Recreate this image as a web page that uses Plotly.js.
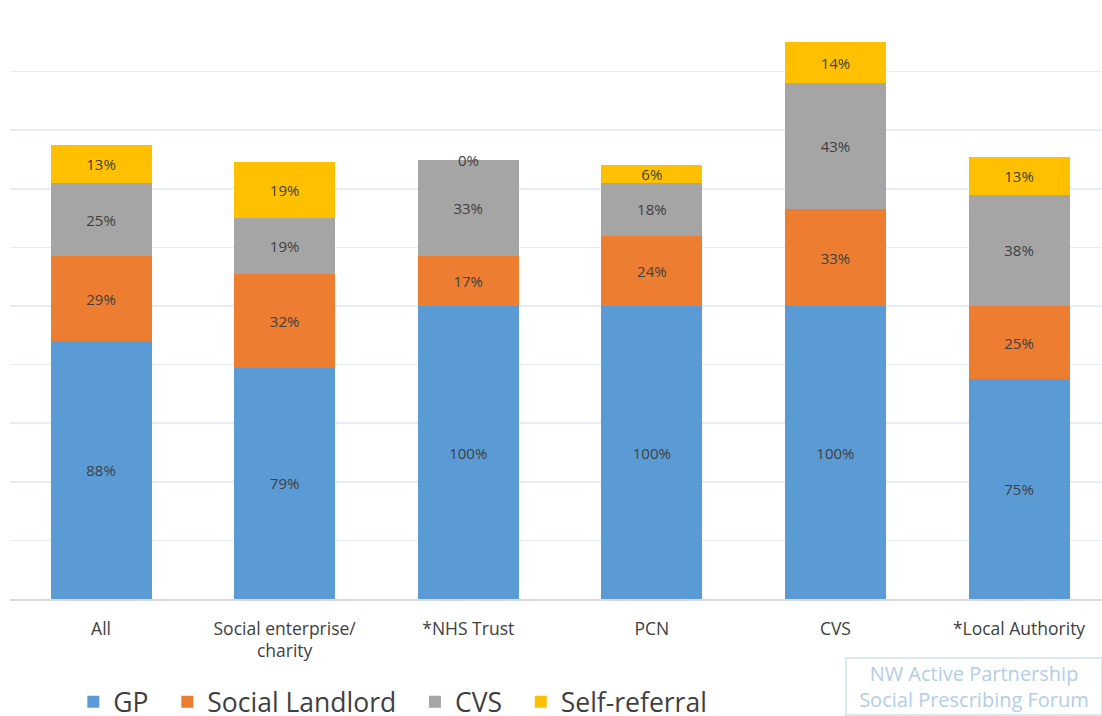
<!DOCTYPE html>
<html>
<head>
<meta charset="utf-8">
<script src="https://cdn.plot.ly/plotly-3.0.1.min.js"></script>
<style>html,body{margin:0;padding:0;background:#fff;}#chart{width:1102px;height:716px;}</style>
</head>
<body>
<div id="chart"></div>
<script>
const categories = ["All", "Social enterprise/<br>charity", "*NHS Trust", "PCN", "CVS", "*Local Authority"];
const gp = [88, 79, 100, 100, 100, 75];
const socialLandlord = [29, 32, 17, 24, 33, 25];
const cvs = [25, 19, 33, 18, 43, 38];
const selfReferral = [13, 19, 0, 6, 14, 13];
const seriesNames = ["GP", "Social Landlord", "CVS", "Self-referral"];
const seriesColors = ["#5B9BD5", "#ED7D31", "#A5A5A5", "#FFC000"];
const seriesValues = [gp, socialLandlord, cvs, selfReferral];

const font = "Open Sans, Noto Sans, sans-serif";
const labelFont = {family: font, size: 15, color: "#404040"};

const traces = seriesValues.map((vals, i) => ({
  type: "bar",
  name: seriesNames[i] + (i < seriesNames.length - 1 ? "\u00A0\u00A0" : ""),
  x: categories,
  y: vals,
  marker: {color: seriesColors[i]},
  text: vals.map(v => v + "%"),
  textposition: "inside",
  insidetextanchor: "middle",
  textangle: 0,
  constraintext: "none",
  textfont: labelFont,
  hoverinfo: "skip",
  width: 0.55
}));

// labels for zero-height segments, placed at the top of their stack
const zeroLabels = [];
seriesValues.forEach((vals, i) => {
  vals.forEach((v, j) => {
    if (v === 0) {
      let base = 0;
      for (let k = 0; k < i; k++) base += seriesValues[k][j];
      zeroLabels.push({
        xref: "x", yref: "y", x: categories[j], y: base,
        text: v + "%", showarrow: false, yanchor: "middle",
        font: labelFont
      });
    }
  });
});

const layout = {
  width: 1102, height: 716,
  margin: {l: 10, r: 0, t: 13, b: 117, autoexpand: false},
  barmode: "stack",
  paper_bgcolor: "#fff", plot_bgcolor: "#fff",
  font: {family: font, color: "#404040"},
  xaxis: {
    range: [-0.496, 5.452],
    showgrid: false, automargin: false,
    showline: true, linecolor: "#d9d9d9", linewidth: 1.5,
    ticks: "", ticklabelstandoff: 13,
    tickfont: {size: 17.5, color: "#404040", family: font},
    fixedrange: true
  },
  yaxis: {
    range: [0, 200], dtick: 20,
    showticklabels: false, automargin: false,
    gridcolor: "#e6edf7", gridwidth: 1.5,
    zeroline: false, showline: false,
    fixedrange: true
  },
  showlegend: true,
  legend: {
    orientation: "h",
    x: 0.058, xanchor: "left",
    y: -0.135, yanchor: "top",
    font: {size: 26.5, color: "#404040", family: font},
    itemwidth: 30,
    traceorder: "normal",
    bgcolor: "rgba(0,0,0,0)"
  },
  annotations: zeroLabels.concat([{
    xref: "paper", yref: "paper",
    x: 1.001, xanchor: "right",
    y: -0.1997, yanchor: "bottom",
    text: "NW Active Partnership<br>Social Prescribing Forum",
    showarrow: false,
    font: {size: 20, color: "#b3cde8", family: font},
    bordercolor: "#dce7f4", borderwidth: 2, borderpad: 1,
    bgcolor: "#fff", align: "center", width: 252
  }])
};

Plotly.newPlot("chart", traces, layout, {displayModeBar: false, staticPlot: true});
</script>
</body>
</html>
